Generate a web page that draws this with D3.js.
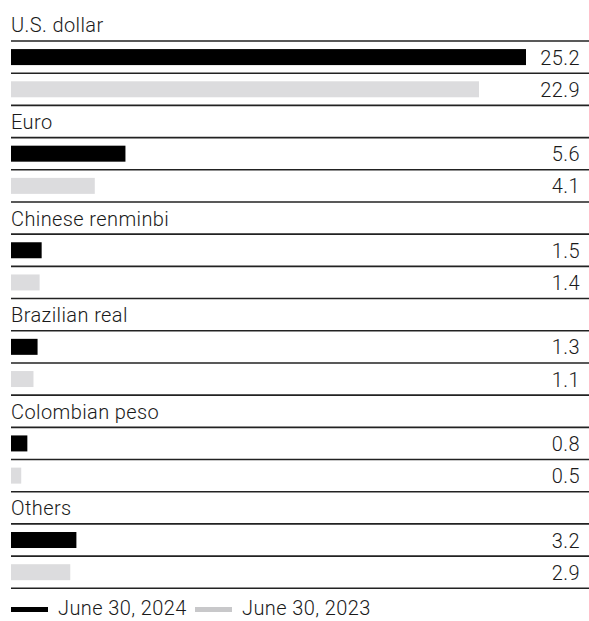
<!DOCTYPE html>
<html>
<head>
    <meta charset="utf-8">
    <title>Currency exposure</title>
    <script src="https://d3js.org/d3.v7.min.js"></script>
    <style>
        body { margin: 0; background: #fff; }
        text {
            font-family: Roboto, "Open Sans", sans-serif;
            font-size: 20px;
            font-weight: 300;
            fill: #1a1a1a;
            letter-spacing: 0.4px;
        }
    </style>
</head>
<body>
    <div id="chart"></div>

    <script>
        // Data
        const currencies = ["U.S. dollar", "Euro", "Chinese renminbi", "Brazilian real", "Colombian peso", "Others"];
        const values2024 = [25.2, 5.6, 1.5, 1.3, 0.8, 3.2];
        const values2023 = [22.9, 4.1, 1.4, 1.1, 0.5, 2.9];
        const seriesLabels = ["June 30, 2024", "June 30, 2023"];

        const width = 589, height = 621;
        const left = 11, right = 589;
        const barColors = ["#000000", "#dcdcde"];
        const legendColors = ["#000000", "#c8c8ca"];

        // Every currency takes three rows: name, 2024 bar, 2023 bar
        const rows = [];
        currencies.forEach((c, i) => {
            rows.push({type: "title", label: c});
            rows.push({type: "bar", series: 0, value: values2024[i]});
            rows.push({type: "bar", series: 1, value: values2023[i]});
        });

        const y = d3.scaleBand()
            .domain(d3.range(rows.length))
            .range([8.8, 588.3]);

        const x = d3.scaleLinear()
            .domain([0, d3.max(values2024.concat(values2023))])
            .range([left, 526]);

        const svg = d3.select("#chart")
            .append("svg")
            .attr("width", width)
            .attr("height", height);

        const row = svg.selectAll(".row")
            .data(rows)
            .enter()
            .append("g")
            .attr("class", "row")
            .attr("transform", (d, i) => `translate(0,${y(i)})`);

        const bh = y.bandwidth();

        // Currency names
        row.filter(d => d.type === "title")
            .append("text")
            .attr("x", left)
            .attr("y", bh - 8.6)
            .text(d => d.label);

        const bars = row.filter(d => d.type === "bar");

        bars.append("rect")
            .attr("x", x(0))
            .attr("y", (bh - 16) / 2)
            .attr("width", d => x(d.value) - x(0))
            .attr("height", 16)
            .attr("fill", d => barColors[d.series]);

        bars.append("text")
            .attr("x", 580)
            .attr("y", bh - 8.6)
            .attr("text-anchor", "end")
            .text(d => d.value.toFixed(1));

        // Rule under every row
        row.append("line")
            .attr("x1", left)
            .attr("x2", right)
            .attr("y1", bh)
            .attr("y2", bh)
            .attr("stroke", "#222")
            .attr("stroke-width", 1.6);

        // Legend (kept a little high so the text is not cut at the bottom)
        const legend = svg.append("g")
            .attr("transform", "translate(11,607)");

        const item = legend.selectAll(".item")
            .data(seriesLabels)
            .enter()
            .append("g")
            .attr("class", "item")
            .attr("transform", (d, i) => `translate(${i * 184},0)`);

        item.append("rect")
            .attr("width", 37)
            .attr("height", 5)
            .attr("fill", (d, i) => legendColors[i]);

        item.append("text")
            .attr("x", 47)
            .attr("y", 8)
            .text(d => d);
    </script>
</body>
</html>
